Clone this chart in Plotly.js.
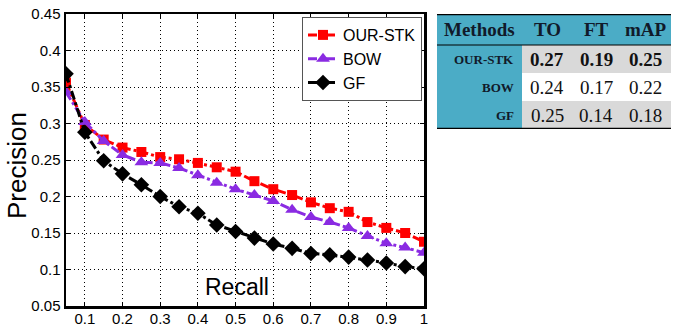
<!DOCTYPE html>
<html>
<head>
<meta charset="utf-8">
<script src="https://cdn.plot.ly/plotly-3.0.1.min.js"></script>
<style>
  body { margin: 0; background: #fff; }
  #chart { width: 677px; height: 330px; }
</style>
</head>
<body>
<div id="chart"></div>
<script>
// recall points
const recall = [0.05, 0.1, 0.15, 0.2, 0.25, 0.3, 0.35, 0.4, 0.45, 0.5,
                0.55, 0.6, 0.65, 0.7, 0.75, 0.8, 0.85, 0.9, 0.95, 1.0];

// precision per method
const ourStk = [0.356, 0.298, 0.278, 0.267, 0.261, 0.254, 0.251, 0.246, 0.240, 0.234,
                0.221, 0.210, 0.202, 0.192, 0.184, 0.179, 0.165, 0.157, 0.150, 0.138];
const bow    = [0.343, 0.302, 0.276, 0.257, 0.247, 0.246, 0.239, 0.229, 0.219, 0.210,
                0.202, 0.194, 0.182, 0.172, 0.165, 0.157, 0.146, 0.136, 0.130, 0.123];
const gf     = [0.368, 0.288, 0.249, 0.231, 0.216, 0.200, 0.186, 0.177, 0.161, 0.152,
                0.143, 0.135, 0.129, 0.122, 0.120, 0.117, 0.113, 0.109, 0.104, 0.101];

// table
const methods = ['OUR-STK', 'BOW', 'GF'];
const tableCols = ['Methods', 'TO', 'FT', 'mAP'];
const toVals  = [0.27, 0.24, 0.25];
const ftVals  = [0.19, 0.17, 0.14];
const mapVals = [0.25, 0.22, 0.18];

const W = 677, H = 330;
const px = x => x / W;
const py = y => 1 - y / H;

const teal = '#4bacc6';
const grey = '#d9d9d9';
const serif = 'Liberation Serif, Times New Roman, serif';
const sans = 'Liberation Sans, Arial, sans-serif';

// table grid (pixel widths / heights of columns and rows)
const colEdges = [0, 85, 135, 183, 234];
const rowEdges = [0, 31, 59, 87, 115];
const mid = (e, i) => (e[i] + e[i + 1]) / 2;

function series(name, y, color, symbol, size) {
    return {
        x: recall, y: y, name: name,
        type: 'scatter', mode: 'lines+markers',
        line: {color: color, width: 3, dash: 'dashdot'},
        marker: {color: color, symbol: symbol, size: size}
    };
}

// cell fill codes: 2 = teal, 1 = grey, 0 = white
const fillZ = [[2, 2, 2, 2]];
methods.forEach((m, i) => {
    const c = i % 2 === 0 ? 1 : 0;
    fillZ.push([2, c, c, c]);
});

const tableFill = {
    type: 'heatmap', x: colEdges, y: rowEdges, z: fillZ,
    xaxis: 'x2', yaxis: 'y2',
    zmin: 0, zmax: 2, showscale: false, hoverinfo: 'skip',
    colorscale: [[0, '#ffffff'], [0.5, grey], [1, teal]],
    showlegend: false
};

const annotations = [
    {text: 'Precision', x: px(17), y: py(166), xref: 'paper', yref: 'paper',
     xanchor: 'center', yanchor: 'middle', textangle: -90, showarrow: false,
     font: {family: sans, size: 26, color: '#000'}},
    {text: 'Recall', x: px(237), y: py(287), xref: 'paper', yref: 'paper',
     xanchor: 'center', yanchor: 'middle', showarrow: false,
     font: {family: sans, size: 23, color: '#000'}}
];

// header text
tableCols.forEach((c, j) => {
    annotations.push({
        text: '<b>' + c + '</b>', x: mid(colEdges, j), y: mid(rowEdges, 0),
        xref: 'x2', yref: 'y2', showarrow: false, xanchor: 'center', yanchor: 'middle',
        font: {family: serif, size: 19, color: '#111a2a'}
    });
});

// body text
const valueCols = [toVals, ftVals, mapVals];
methods.forEach((m, i) => {
    annotations.push({
        text: '<b>' + m + '</b>', x: colEdges[1] - 6, y: mid(rowEdges, i + 1),
        xref: 'x2', yref: 'y2', showarrow: false, xanchor: 'right', yanchor: 'middle',
        font: {family: serif, size: 13, color: '#111a2a'}
    });
    valueCols.forEach((vals, j) => {
        const s = vals[i].toFixed(2);
        annotations.push({
            text: i === 0 ? '<b>' + s + '</b>' : s,
            x: mid(colEdges, j + 1), y: mid(rowEdges, i + 1),
            xref: 'x2', yref: 'y2', showarrow: false, xanchor: 'center', yanchor: 'middle',
            font: {family: serif, size: 19, color: '#111'}
        });
    });
});

const data = [
    series('OUR-STK', ourStk, '#ff0000', 'square', 10),
    series('BOW', bow, '#8a2be2', 'triangle-up', 12),
    series('GF', gf, '#000000', 'diamond', 12),
    tableFill
];

const axisFont = {family: sans, size: 15, color: '#000'};

const layout = {
    width: W, height: H,
    margin: {l: 0, r: 0, t: 0, b: 0},
    paper_bgcolor: '#fff', plot_bgcolor: '#fff',
    showlegend: true,
    xaxis: {
        domain: [px(66), px(424)],
        range: [0.05, 1], tick0: 0, dtick: 0.1,
        showgrid: true, gridcolor: '#000', gridwidth: 1, griddash: '1px,3px',
        zeroline: false, showline: true, linecolor: '#000', linewidth: 2.5, mirror: 'ticks',
        ticks: 'inside', ticklen: 4, tickcolor: '#000', ticklabelstandoff: -3,
        tickfont: axisFont, automargin: false
    },
    yaxis: {
        domain: [py(306), py(14)],
        range: [0.05, 0.45], tick0: 0, dtick: 0.05,
        showgrid: true, gridcolor: '#000', gridwidth: 1, griddash: '1px,3px',
        zeroline: false, showline: true, linecolor: '#000', linewidth: 2.5, mirror: 'ticks',
        ticks: 'inside', ticklen: 4, tickcolor: '#000',
        tickfont: axisFont, automargin: false
    },
    xaxis2: {
        domain: [px(437), px(671)], range: [0, colEdges[4]],
        visible: false, fixedrange: true, anchor: 'y2'
    },
    yaxis2: {
        domain: [py(129), py(14)], range: [rowEdges[4], 0],
        visible: false, fixedrange: true, anchor: 'x2'
    },
    legend: {
        x: px(422), y: py(17), xanchor: 'right', yanchor: 'top',
        bgcolor: '#fff', bordercolor: '#555', borderwidth: 1,
        font: {family: sans, size: 16, color: '#000'}
    },
    annotations: annotations,
    shapes: [
        {type: 'line', xref: 'x2', yref: 'y2', x0: 0, x1: colEdges[4], y0: rowEdges[0], y1: rowEdges[0],
         line: {color: '#000', width: 2.5}},
        {type: 'line', xref: 'x2', yref: 'y2', x0: 0, x1: colEdges[4], y0: rowEdges[1], y1: rowEdges[1],
         line: {color: '#000', width: 1}},
        {type: 'line', xref: 'x2', yref: 'y2', x0: 0, x1: colEdges[4], y0: rowEdges[4], y1: rowEdges[4],
         line: {color: '#000', width: 2.5}}
    ]
};

Plotly.newPlot('chart', data, layout, {displayModeBar: false, staticPlot: true});
</script>
</body>
</html>
